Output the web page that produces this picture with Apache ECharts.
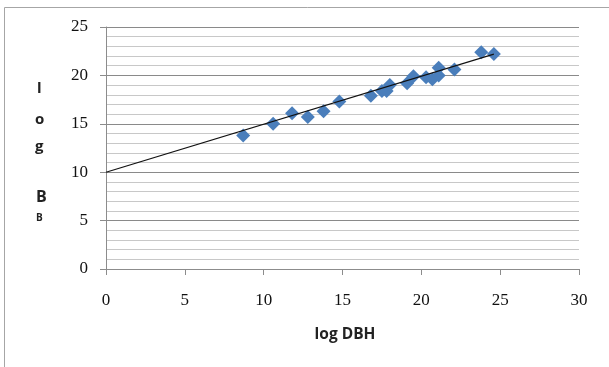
<!DOCTYPE html>
<html>
<head>
<meta charset="utf-8">
<script src="https://cdn.jsdelivr.net/npm/echarts@6/dist/echarts.min.js"></script>
<style>
  html, body { margin: 0; padding: 0; background: #fff; }
  #chart { width: 609px; height: 367px; }
</style>
</head>
<body>
<div id="chart"></div>
<script>
// Measured log DBH (x) against log biomass (y)
var logDBH = [8.7, 10.6, 11.8, 12.8, 13.8, 14.8, 16.8, 17.5, 17.8, 18.0, 19.1, 19.5, 20.3, 20.7, 21.1, 21.1, 22.1, 23.8, 24.6];
var logB   = [13.8, 15.0, 16.1, 15.7, 16.3, 17.3, 17.9, 18.4, 18.4, 19.0, 19.2, 19.9, 19.8, 19.6, 20.8, 20.0, 20.6, 22.4, 22.2];

// Linear trend line, drawn from x = 0 to the largest x
var trendX = [0, 24.6];
var trendY = [10.0, 22.2];

// Axis ranges and tick spacing
var xRange = [0, 30];
var yRange = [0, 25];
var tickStep = 5;

var points = logDBH.map(function (x, i) { return [x, logB[i]]; });
var trend = trendX.map(function (x, i) { return [x, trendY[i]]; });

var tickFont = {
  fontFamily: '"Liberation Serif", "DejaVu Serif", serif',
  fontSize: 17,
  color: '#111'
};

var letterFont = 'bold 15px "Open Sans", sans-serif';

var chart = echarts.init(document.getElementById('chart'), null, { renderer: 'canvas' });
chart.setOption({
  animation: false,
  backgroundColor: '#fff',
  grid: { left: 106, right: 30, top: 27, bottom: 98, containLabel: false },
  xAxis: {
    type: 'value',
    min: xRange[0], max: xRange[1], interval: tickStep,
    name: 'log DBH',
    nameLocation: 'middle',
    nameGap: 58,
    nameTextStyle: { fontFamily: '"Open Sans", "Liberation Sans", sans-serif', fontWeight: 'bold', fontSize: 15.5, color: '#222', padding: [0, 0, 0, 5] },
    axisLine: { show: true, lineStyle: { color: '#8c8c8c', width: 1 } },
    axisTick: { show: true, inside: false, length: 6, lineStyle: { color: '#8c8c8c' } },
    axisLabel: Object.assign({ margin: 23 }, tickFont),
    splitLine: { show: false }
  },
  yAxis: {
    type: 'value',
    min: yRange[0], max: yRange[1], interval: tickStep,
    axisLine: { show: true, lineStyle: { color: '#8c8c8c', width: 1 } },
    axisTick: { show: true, inside: false, length: 6, lineStyle: { color: '#8c8c8c' } },
    axisLabel: Object.assign({ margin: 18 }, tickFont),
    splitLine: { show: true, lineStyle: { color: '#8a8a8a', width: 1 } },
    minorTick: { show: false, splitNumber: 5 },
    minorSplitLine: { show: true, lineStyle: { color: '#c8c8c8', width: 1 } }
  },
  series: [
    {
      type: 'scatter',
      data: points,
      symbol: 'diamond',
      symbolSize: 14,
      itemStyle: { color: '#4a7ebb', opacity: 1 },
      z: 3
    },
    {
      type: 'line',
      data: trend,
      showSymbol: false,
      symbol: 'none',
      lineStyle: { color: '#111', width: 1.2 },
      z: 4
    }
  ],
  graphic: [
    {
      type: 'rect',
      shape: { x: 4.5, y: 7.5, width: 700, height: 500 },
      style: { fill: 'none', stroke: '#a6a6a6', lineWidth: 1 },
      silent: true
    },
    // y-axis title, one letter per line
    { type: 'text', left: 37, top: 81, style: { text: 'l', font: letterFont, fill: '#222' } },
    { type: 'text', left: 35, top: 112, style: { text: 'o', font: letterFont, fill: '#222' } },
    { type: 'text', left: 35, top: 139, style: { text: 'g', font: letterFont, fill: '#222' } },
    { type: 'text', left: 36, top: 189, style: { text: 'B', font: 'bold 16px "Open Sans", sans-serif', fill: '#222' } },
    { type: 'text', left: 36, top: 213, style: { text: 'B', font: 'bold 10px "Open Sans", sans-serif', fill: '#222' } }
  ]
});
</script>
</body>
</html>
